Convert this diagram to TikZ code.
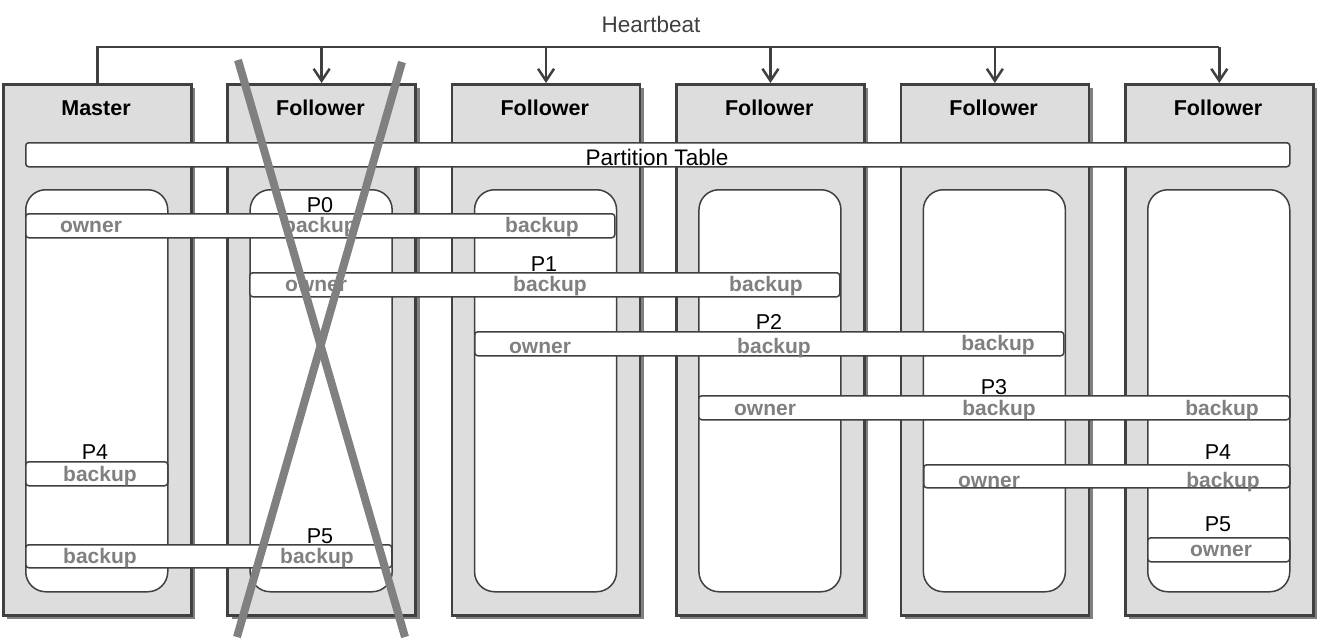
\documentclass[tikz,border=0pt]{standalone}
\usepackage{fontspec}
\setmainfont{Liberation Sans}
\usetikzlibrary{arrows.meta,shadows}
\definecolor{boxfill}{HTML}{DDDDDD}
\definecolor{edge}{HTML}{404040}
\definecolor{lbl}{HTML}{808080}
\definecolor{shade}{HTML}{808080}
\begin{document}
\begin{tikzpicture}[x=1pt,y=-1pt,
  outerbox/.style={draw=edge, line width=2.5pt, fill=boxfill, minimum width=188pt, minimum height=531pt, anchor=north west, inner sep=0pt, drop shadow={shadow xshift=4pt, shadow yshift=-4pt, fill=shade, opacity=1}},
  innerbox/.style={draw=edge, line width=1.5pt, fill=white, rounded corners=20pt, minimum width=142pt, minimum height=402pt, anchor=north west, inner sep=0pt},
  pbar/.style={draw=edge, line width=1.5pt, fill=white, rounded corners=3pt, minimum height=24pt, anchor=north west, inner sep=0pt},
  head/.style={font=\fontsize{21.5}{24}\selectfont\bfseries, anchor=base, inner sep=0pt},
  role/.style={font=\fontsize{21}{24}\selectfont\bfseries, text=lbl, anchor=base, inner sep=0pt},
  plabel/.style={font=\fontsize{21.5}{24}\selectfont, anchor=base, inner sep=0pt},
  hbline/.style={draw=edge, line width=2.5pt},
  crossline/.style={draw=lbl, line width=8pt}
]
\useasboundingbox (0,0) rectangle (1320,642);

% outer server boxes
\foreach \k in {0,...,5} {
  \pgfmathsetmacro{\xo}{2+224.4*\k}
  \node[outerbox] (b\k) at (\xo,83) {};
}
% headers
\node[head] (h0) at (96,115) {Master};
\foreach \k in {1,...,5} {
  \pgfmathsetmacro{\xh}{96+224.4*\k}
  \node[head] (h\k) at (\xh,115) {Follower};
}

% heartbeat
\coordinate (hb) at (0,47);
\node[font=\fontsize{22.5}{24}\selectfont, text=edge, anchor=base, inner sep=0pt] (hbt) at (651,33) {Heartbeat};
\draw[hbline] (b0.north) -- (b0.north |- hb) -- (b5.north |- hb);
\foreach \k in {1,...,5} {
  \draw[hbline, -{Straight Barb[length=12pt,width=16pt]}] (b\k.north |- hb) -- (b\k.north);
}

% partition table
\node[pbar, minimum width=1264pt] (ptab) at (25,142) {};
\node[plabel, font=\fontsize{22.5}{24}\selectfont] (ptabt) at (657,165) {Partition Table};

% inner boxes
\foreach \k in {0,...,5} {
  \pgfmathsetmacro{\xi}{25+224.4*\k}
  \node[innerbox] (i\k) at (\xi,189) {};
}

% P0
\node[plabel] (p0t) at (320,212) {P0};
\node[pbar, minimum width=589pt] (p0) at (25,213) {};
\node[role] (p0a) at (91,232) {owner};
\node[role] (p0b) at (320,232) {backup};
\node[role] (p0c) at (542,232) {backup};

% P1
\node[plabel] (p1t) at (544,271) {P1};
\node[pbar, minimum width=590pt] (p1) at (249,272) {};
\node[role] (p1a) at (316,291) {owner};
\node[role] (p1b) at (550,291) {backup};
\node[role] (p1c) at (766,291) {backup};

% P2
\node[plabel] (p2t) at (769,329) {P2};
\node[pbar, minimum width=589pt] (p2) at (474,331) {};
\node[role] (p2a) at (540,353) {owner};
\node[role] (p2b) at (774,353) {backup};
\node[role] (p2c) at (998,350) {backup};

% P3
\node[plabel] (p3t) at (994,394) {P3};
\node[pbar, minimum width=591pt] (p3) at (698,395) {};
\node[role] (p3a) at (765,415) {owner};
\node[role] (p3b) at (999,415) {backup};
\node[role] (p3c) at (1222,415) {backup};

% P4 (left)
\node[plabel] (p4lt) at (95,459) {P4};
\node[pbar, minimum width=142pt] (p4l) at (25,461) {};
\node[role] (p4la) at (100,481) {backup};

% P4 (right)
\node[plabel] (p4rt) at (1218,459) {P4};
\node[pbar, minimum width=366pt, minimum height=23pt] (p4r) at (923,464) {};
\node[role] (p4ra) at (989,487) {owner};
\node[role] (p4rb) at (1223,487) {backup};

% P5 (right)
\node[plabel] (p5rt) at (1218,531) {P5};
\node[pbar, minimum width=142pt] (p5r) at (1147,537) {};
\node[role] (p5ra) at (1221,556) {owner};

% P5 (left)
\node[plabel] (p5lt) at (320,543) {P5};
\node[pbar, minimum width=366pt, minimum height=23pt] (p5l) at (25,544) {};
\node[role] (p5la) at (100,563) {backup};
\node[role] (p5lb) at (317,563) {backup};

% cross over the failed follower
\coordinate (c1) at (238,60);
\coordinate (c2) at (405,637);
\coordinate (c3) at (402,62);
\coordinate (c4) at (237,637);
\draw[crossline] (c1) -- (c2);
\draw[crossline] (c3) -- (c4);
\end{tikzpicture}
\end{document}
